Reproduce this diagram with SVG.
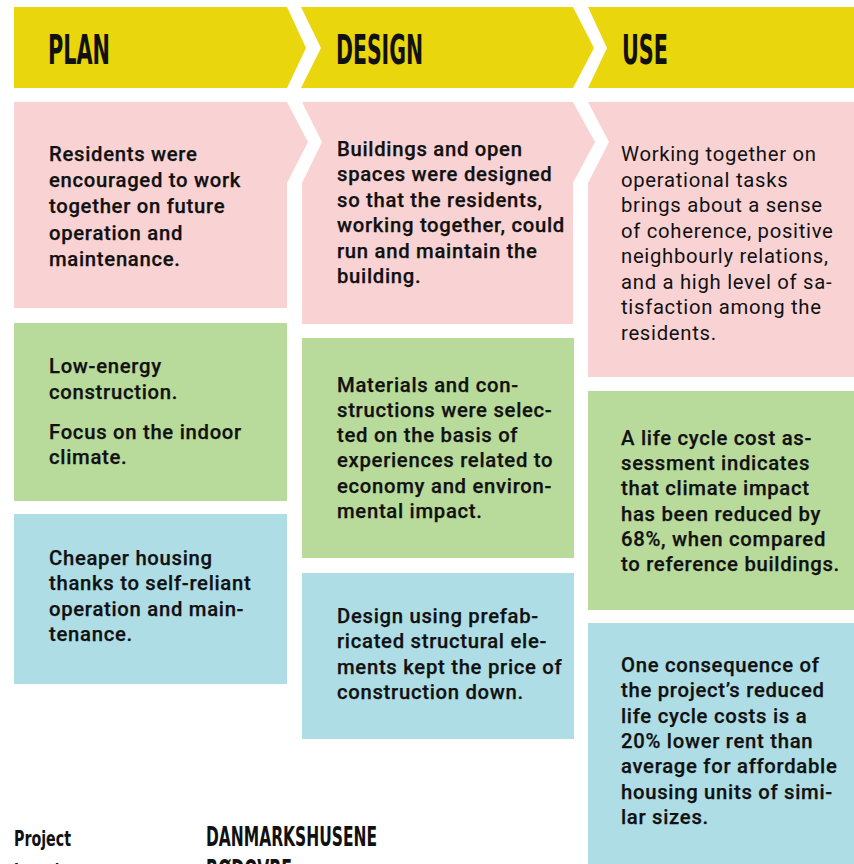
<svg xmlns="http://www.w3.org/2000/svg" width="854" height="864" viewBox="0 0 854 864">
<style>
.y{fill:#E9D60C}
.p{fill:#F9D3D4}
.g{fill:#B8DA9A}
.b{fill:#AEDDE5}
.h{font-family:"DejaVu Sans Condensed","DejaVu Sans",sans-serif;font-weight:bold;font-size:40px;fill:#111}
.t{font-family:Roboto,"Liberation Sans",sans-serif;font-size:20.3px;font-weight:500;letter-spacing:0.7px;fill:#111;stroke:#111;stroke-width:0.25px}
.r{font-weight:400;stroke:none}
.f{font-family:"DejaVu Sans Condensed","DejaVu Sans",sans-serif;font-weight:bold;fill:#111}
</style>
<rect width="854" height="864" fill="#fff"/>
<g id="head-plan"><polygon class="y" points="14,7 287,7 306,48 287,88 14,88"/><text class="h" x="48" y="64" textLength="62" lengthAdjust="spacingAndGlyphs">PLAN</text></g>
<g id="head-design"><polygon class="y" points="301,7 573,7 594,48 573,88 301,88 321,48"/><text class="h" x="336" y="64" textLength="87" lengthAdjust="spacingAndGlyphs">DESIGN</text></g>
<g id="head-use"><polygon class="y" points="588,7 854,7 854,88 588,88 607,48"/><text class="h" x="622" y="64" textLength="46" lengthAdjust="spacingAndGlyphs">USE</text></g>

<g id="plan-social"><polygon class="p" points="14,102 287,102 308,142 287,183 287,308 14,308"/>
<text class="t" x="49" y="161"><tspan x="49">Residents were</tspan><tspan x="49" dy="26.2">encouraged to work</tspan><tspan x="49" dy="26.2">together on future</tspan><tspan x="49" dy="26.2">operation and</tspan><tspan x="49" dy="26.2">maintenance.</tspan></text></g>
<g id="design-social"><polygon class="p" points="302,102 573,102 595,142 573,183 573,324 302,324 302,183 322,142"/>
<text class="t" x="337" y="156"><tspan x="337">Buildings and open</tspan><tspan x="337" dy="25.4">spaces were designed</tspan><tspan x="337" dy="25.4">so that the residents,</tspan><tspan x="337" dy="25.4">working together, could</tspan><tspan x="337" dy="25.4">run and maintain the</tspan><tspan x="337" dy="25.4">building.</tspan></text></g>
<g id="use-social"><polygon class="p" points="588,102 854,102 854,377 588,377 588,183 609,142"/>
<text class="t r" x="621" y="161"><tspan x="621">Working together on</tspan><tspan x="621" dy="25.5">operational tasks</tspan><tspan x="621" dy="25.5">brings about a sense</tspan><tspan x="621" dy="25.5">of coherence, positive</tspan><tspan x="621" dy="25.5">neighbourly relations,</tspan><tspan x="621" dy="25.5">and a high level of sa-</tspan><tspan x="621" dy="25.5">tisfaction among the</tspan><tspan x="621" dy="25.5">residents.</tspan></text></g>

<g id="plan-env"><rect class="g" x="14" y="323" width="273" height="178"/>
<text class="t" x="49" y="373"><tspan x="49">Low-energy</tspan><tspan x="49" dy="26">construction.</tspan><tspan x="49" dy="40">Focus on the indoor</tspan><tspan x="49" dy="25">climate.</tspan></text></g>
<g id="design-env"><rect class="g" x="302" y="338" width="272" height="220"/>
<text class="t" x="337" y="391.5"><tspan x="337">Materials and con-</tspan><tspan x="337" dy="25.3">structions were selec-</tspan><tspan x="337" dy="25.3">ted on the basis of</tspan><tspan x="337" dy="25.3">experiences related to</tspan><tspan x="337" dy="25.3">economy and environ-</tspan><tspan x="337" dy="25.3">mental impact.</tspan></text></g>
<g id="use-env"><rect class="g" x="588" y="391" width="266" height="219"/>
<text class="t" x="621" y="445"><tspan x="621">A life cycle cost as-</tspan><tspan x="621" dy="25.2">sessment indicates</tspan><tspan x="621" dy="25.2">that climate impact</tspan><tspan x="621" dy="25.2">has been reduced by</tspan><tspan x="621" dy="25.2">68%, when compared</tspan><tspan x="621" dy="25.2">to reference buildings.</tspan></text></g>

<g id="plan-econ"><rect class="b" x="14" y="514" width="273" height="170"/>
<text class="t" x="49" y="565"><tspan x="49">Cheaper housing</tspan><tspan x="49" dy="25.3">thanks to self-reliant</tspan><tspan x="49" dy="25.3">operation and main-</tspan><tspan x="49" dy="25.3">tenance.</tspan></text></g>
<g id="design-econ"><rect class="b" x="302" y="573" width="272" height="166"/>
<text class="t" x="337" y="623"><tspan x="337">Design using prefab-</tspan><tspan x="337" dy="25.3">ricated structural ele-</tspan><tspan x="337" dy="25.3">ments kept the price of</tspan><tspan x="337" dy="25.3">construction down.</tspan></text></g>
<g id="use-econ"><rect class="b" x="588" y="623" width="266" height="241"/>
<text class="t" x="621" y="672"><tspan x="621">One consequence of</tspan><tspan x="621" dy="25.3">the project’s reduced</tspan><tspan x="621" dy="25.3">life cycle costs is a</tspan><tspan x="621" dy="25.3">20% lower rent than</tspan><tspan x="621" dy="25.3">average for affordable</tspan><tspan x="621" dy="25.3">housing units of simi-</tspan><tspan x="621" dy="25.3">lar sizes.</tspan></text></g>

<g id="footer">
<text class="f" x="14" y="846" font-size="22" textLength="57" lengthAdjust="spacingAndGlyphs">Project</text>
<text class="f" x="14" y="879" font-size="22" textLength="64" lengthAdjust="spacingAndGlyphs">Location</text>
<text class="f" x="206" y="846" font-size="26" textLength="171" lengthAdjust="spacingAndGlyphs">DANMARKSHUSENE</text>
<text class="f" x="206" y="879" font-size="26" textLength="86" lengthAdjust="spacingAndGlyphs">RØDOVRE</text>
</g>
</svg>
